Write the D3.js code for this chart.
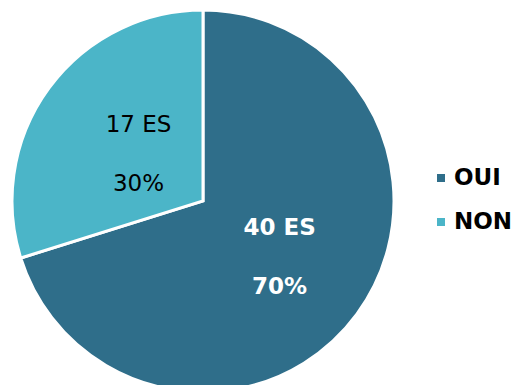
<!DOCTYPE html>
<html>
<head>
<meta charset="utf-8">
<script src="https://cdn.jsdelivr.net/npm/d3@7"></script>
<style>
  html, body { margin: 0; padding: 0; background: #fff; }
  svg { display: block; font-family: "DejaVu Sans", Verdana, sans-serif; }
</style>
</head>
<body>
<div id="chart"></div>
<script>
const categories = ["OUI", "NON"];
const counts = [40, 17];
const percents = ["70%", "30%"];

const
  width = 517,
  height = 385;

const cx = 203, cy = 201, radius = 191;

const color = d3.scaleOrdinal()
  .domain(categories)
  .range(["#2f6e8a", "#4bb5c8"]);

const svg = d3.select("#chart")
  .append("svg")
  .attr("width", width)
  .attr("height", height);

const pie = d3.pie().sort(null).value(d => d.value);
const data = pie(categories.map((c, i) => ({ name: c, value: counts[i], pct: percents[i] })));

const arc = d3.arc().innerRadius(0).outerRadius(radius);

const g = svg.append("g").attr("transform", "translate(" + cx + "," + cy + ")");

g.selectAll("path")
  .data(data)
  .enter().append("path")
  .attr("d", arc)
  .attr("fill", d => color(d.data.name))
  .attr("stroke", "#fff")
  .attr("stroke-width", 3)
  .attr("stroke-linejoin", "miter");

// label placement radius per slice (Excel-ish fit)
const labelR = [95, 80];
const labels = g.selectAll("g.lbl")
  .data(data)
  .enter().append("g")
  .attr("class", "lbl")
  .attr("transform", (d, i) => {
    const a = (d.startAngle + d.endAngle) / 2;
    return "translate(" + (Math.sin(a) * labelR[i]) + "," + (-Math.cos(a) * labelR[i]) + ")";
  });

labels.append("text")
  .attr("text-anchor", "middle")
  .attr("y", -22)
  .attr("font-size", 23)
  .attr("font-weight", (d, i) => i === 0 ? "bold" : "normal")
  .attr("fill", (d, i) => i === 0 ? "#fff" : "#000")
  .text(d => d.data.value + " ES");

labels.append("text")
  .attr("text-anchor", "middle")
  .attr("y", 37)
  .attr("font-size", 23)
  .attr("font-weight", (d, i) => i === 0 ? "bold" : "normal")
  .attr("fill", (d, i) => i === 0 ? "#fff" : "#000")
  .text(d => d.data.pct);

// legend
const legend = svg.append("g").attr("transform", "translate(437,178)");
const item = legend.selectAll("g")
  .data(categories)
  .enter().append("g")
  .attr("transform", (d, i) => "translate(0," + (i * 44) + ")");

item.append("rect")
  .attr("x", 0)
  .attr("y", -4)
  .attr("width", 8)
  .attr("height", 8)
  .attr("fill", d => color(d));

item.append("text")
  .attr("x", 17)
  .attr("y", 7)
  .attr("font-size", 23)
  .attr("font-weight", "bold")
  .attr("fill", "#000")
  .text(d => d);
</script>
</body>
</html>
